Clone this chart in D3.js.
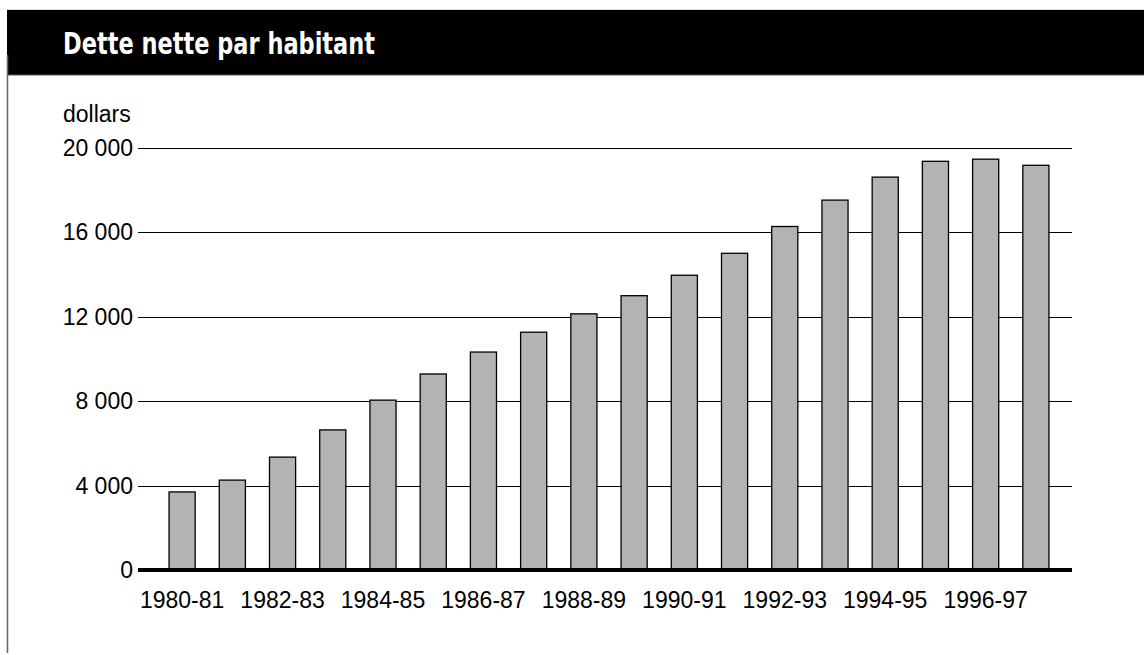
<!DOCTYPE html>
<html>
<head>
<meta charset="utf-8">
<script src="https://cdn.jsdelivr.net/npm/d3@7"></script>
<style>
  html, body { margin: 0; padding: 0; background: #fff; }
  svg { display: block; }
</style>
</head>
<body>
<svg id="chart" width="1144" height="655"></svg>
<script>
const categories = ["1980-81","1981-82","1982-83","1983-84","1984-85","1985-86","1986-87","1987-88","1988-89","1989-90","1990-91","1991-92","1992-93","1993-94","1994-95","1995-96","1996-97","1997-98"];
const values = [3700, 4260, 5350, 6640, 8050, 9290, 10330, 11270, 12140, 13000, 13970, 15010, 16280, 17530, 18620, 19370, 19470, 19180];
const yTicks = [0, 4000, 8000, 12000, 16000, 20000];
const xLabels = ["1980-81","1982-83","1984-85","1986-87","1988-89","1990-91","1992-93","1994-95","1996-97"];
const title = "Dette nette par habitant";
const unitLabel = "dollars";

const svg = d3.select("#chart");
const font = "'Liberation Sans', Arial, Helvetica, sans-serif";

// Header
svg.append("line").attr("x1", 7).attr("x2", 1144).attr("y1", 9.5).attr("y2", 9.5)
  .attr("stroke", "#ddd").attr("stroke-width", 1);
svg.append("rect").attr("x", 7).attr("y", 10).attr("width", 1137).attr("height", 65).attr("fill", "#000");
svg.append("line").attr("x1", 7).attr("x2", 1144).attr("y1", 75).attr("y2", 75)
  .attr("stroke", "#555").attr("stroke-width", 1);
svg.append("line").attr("x1", 7.5).attr("x2", 7.5).attr("y1", 55).attr("y2", 653)
  .attr("stroke", "#666").attr("stroke-width", 1.5);
svg.append("text").attr("x", 63).attr("y", 54)
  .attr("fill", "#fff")
  .attr("font-family", "'Liberation Sans Narrow', 'DejaVu Sans Condensed', 'Liberation Sans', sans-serif")
  .attr("font-weight", "bold").attr("font-size", 30)
  .attr("textLength", 312).attr("lengthAdjust", "spacingAndGlyphs")
  .text(title);

// Scales
const y = d3.scaleLinear().domain([0, 20000]).range([570, 148]);
const x = d3.scaleBand().domain(categories).range([157, 1061]).paddingInner(0.48).paddingOuter(0.24);

const left = 138, right = 1072;

// Gridlines
svg.append("g").selectAll("line").data(yTicks.filter(d => d > 0)).join("line")
  .attr("x1", left).attr("x2", right)
  .attr("y1", d => Math.round(y(d)) + 0.5).attr("y2", d => Math.round(y(d)) + 0.5)
  .attr("stroke", "#000").attr("stroke-width", 1.2);

// Y tick labels
const fmt = d => d3.format(",")(d).replace(/,/g, "\u00a0");
svg.append("g").selectAll("text").data(yTicks).join("text")
  .attr("x", 133).attr("y", d => y(d))
  .attr("dy", "0.35em")
  .attr("text-anchor", "end")
  .attr("font-family", font).attr("font-size", 23).attr("fill", "#000")
  .text(d => fmt(d));

svg.append("text").attr("x", 63).attr("y", 122)
  .attr("font-family", font).attr("font-size", 23).attr("fill", "#000")
  .text(unitLabel);

// Bars
svg.append("g").selectAll("rect").data(categories).join("rect")
  .attr("x", d => x(d))
  .attr("y", (d, i) => y(values[i]))
  .attr("width", x.bandwidth())
  .attr("height", (d, i) => y(0) - y(values[i]))
  .attr("fill", "#b3b3b3")
  .attr("stroke", "#000").attr("stroke-width", 1.3);

// Baseline
svg.append("line").attr("x1", left).attr("x2", right)
  .attr("y1", y(0)).attr("y2", y(0))
  .attr("stroke", "#000").attr("stroke-width", 4);

// X labels
svg.append("g").selectAll("text").data(xLabels).join("text")
  .attr("x", d => x(d) + x.bandwidth() / 2)
  .attr("y", 608)
  .attr("text-anchor", "middle")
  .attr("font-family", font).attr("font-size", 23).attr("fill", "#000")
  .text(d => d);
</script>
</body>
</html>
